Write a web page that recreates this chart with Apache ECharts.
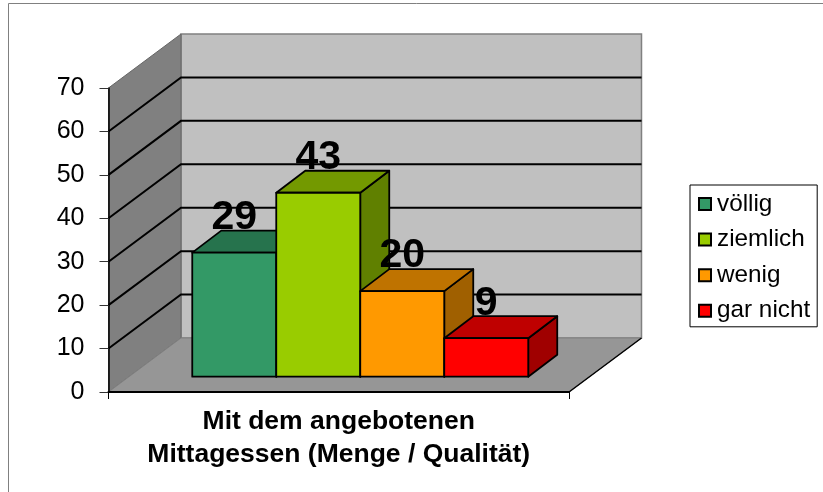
<!DOCTYPE html>
<html>
<head>
<meta charset="utf-8">
<style>
  html, body { margin: 0; padding: 0; background: #fff; }
  #chart { width: 823px; height: 492px; }
</style>
<script src="https://cdn.jsdelivr.net/npm/echarts@6/dist/echarts.min.js"></script>
</head>
<body>
<div id="chart"></div>
<script>
const categories = ['Mit dem angebotenen\nMittagessen (Menge / Qualität)'];
const seriesNames = ['völlig', 'ziemlich', 'wenig', 'gar nicht'];
const seriesValues = [29, 43, 20, 9];
const yTicks = [0, 10, 20, 30, 40, 50, 60, 70];

const frontColors = ['#339966', '#99cc00', '#ff9900', '#ff0000'];
const topColors = ['#26734d', '#739900', '#bf7300', '#bf0000'];
const sideColors = ['#206040', '#608000', '#a06000', '#a00000'];

const fontName = '"Liberation Sans", Arial, sans-serif';

// oblique projection of the 3d box, in pixels
const wallDx = 72.5;
const wallDy = -54;
const barDx = 29;
const barDy = -22;
const floorDx = 21.5;
const floorDy = -15.3;
const barShare = 0.1824;   // bar width as part of the category band
const barShrink = 0.985;   // bars stand a little behind the front plane

function renderWalls(params, api) {
  const y0 = api.coord([0, yTicks[0]])[1];
  const yTop = api.coord([0, yTicks[yTicks.length - 1]])[1];
  const band = api.size([1, 0])[0];
  const left = api.coord([0, 0])[0] - band / 2;
  const right = left + band;

  const children = [
    {
      type: 'polygon',
      shape: { points: [[left + wallDx, yTop + wallDy], [right + wallDx, yTop + wallDy], [right + wallDx, y0 + wallDy], [left + wallDx, y0 + wallDy]] },
      style: { fill: '#c0c0c0', stroke: '#808080', lineWidth: 1.5 }
    },
    {
      type: 'polygon',
      shape: { points: [[left, yTop], [left + wallDx, yTop + wallDy], [left + wallDx, y0 + wallDy], [left, y0]] },
      style: { fill: '#808080', stroke: '#666666', lineWidth: 1 }
    },
    {
      type: 'polygon',
      shape: { points: [[left, y0], [left + wallDx, y0 + wallDy], [right + wallDx, y0 + wallDy], [right, y0]] },
      style: { fill: '#969696', stroke: '#808080', lineWidth: 1 }
    },
    {
      type: 'line',
      shape: { x1: right, y1: y0, x2: right + wallDx, y2: y0 + wallDy },
      style: { stroke: '#000', lineWidth: 1.5 }
    }
  ];

  yTicks.slice(1, -1).forEach(tick => {
    const y = api.coord([0, tick])[1];
    children.push({
      type: 'polyline',
      shape: { points: [[left, y], [left + wallDx, y + wallDy], [right + wallDx, y + wallDy]] },
      style: { stroke: '#000', lineWidth: 2, fill: null }
    });
  });

  return { type: 'group', children: children };
}

function makeBarRenderer(i) {
  return function (params, api) {
    const value = api.value(1);
    const base = api.coord([0, 0]);
    const top = api.coord([0, value]);
    const barW = api.size([1, 0])[0] * barShare;
    const x0 = base[0] + (i - 2) * barW + floorDx;
    const x1 = x0 + barW;
    const yb = base[1] + floorDy;
    const yt = yb - (base[1] - top[1]) * barShrink;
    const style = fill => ({ fill: fill, stroke: '#000', lineWidth: 1.8, lineJoin: 'round' });

    return {
      type: 'group',
      children: [
        {
          type: 'polygon',
          z2: i * 3 + 1,
          shape: { points: [[x1, yt], [x1 + barDx, yt + barDy], [x1 + barDx, yb + barDy], [x1, yb]] },
          style: style(sideColors[i])
        },
        {
          type: 'polygon',
          z2: i * 3 + 2,
          shape: { points: [[x0, yt], [x0 + barDx, yt + barDy], [x1 + barDx, yt + barDy], [x1, yt]] },
          style: style(topColors[i])
        },
        {
          type: 'rect',
          z2: i * 3 + 3,
          shape: { x: x0, y: yt, width: barW, height: yb - yt },
          style: style(frontColors[i])
        },
        {
          type: 'text',
          z2: 100,
          x: (x0 + x1) / 2,
          y: yt - 35,
          style: {
            text: String(value),
            fill: '#000',
            font: 'bold 41px ' + fontName,
            align: 'center',
            verticalAlign: 'middle'
          }
        }
      ]
    };
  };
}

const chart = echarts.init(document.getElementById('chart'));

const barSeries = seriesNames.map((name, i) => ({
  name: name,
  type: 'custom',
  coordinateSystem: 'cartesian2d',
  itemStyle: { color: frontColors[i] },
  encode: { x: 0, y: 1 },
  data: [[0, seriesValues[i]]],
  renderItem: makeBarRenderer(i),
  z: 3
}));

chart.setOption({
  animation: false,
  backgroundColor: '#ffffff',
  textStyle: { fontFamily: fontName, color: '#000' },
  graphic: [{
    type: 'rect',
    z: -10,
    shape: { x: 8.5, y: 3.5, width: 900, height: 600 },
    style: { fill: '#fff', stroke: '#808080', lineWidth: 1 }
  }],
  grid: { left: 108.5, top: 88, width: 460.5, height: 304 },
  legend: {
    data: seriesNames,
    orient: 'vertical',
    left: 690,
    top: 185,
    padding: [7, 7, 4, 8],
    itemGap: 11.6,
    itemWidth: 12,
    itemHeight: 12,
    icon: 'rect',
    selectedMode: false,
    borderColor: '#000',
    borderWidth: 1,
    backgroundColor: '#fff',
    itemStyle: { borderColor: '#000', borderWidth: 2 },
    textStyle: { fontFamily: fontName, fontSize: 24.3, color: '#000', padding: [0, 0, 0, 1] }
  },
  xAxis: {
    type: 'category',
    data: categories,
    z: 5,
    axisLine: { lineStyle: { color: '#000', width: 2 } },
    axisTick: { show: true, length: 7, lineStyle: { color: '#000' } },
    axisLabel: {
      fontFamily: fontName,
      fontSize: 26.5,
      fontWeight: 'bold',
      color: '#000',
      lineHeight: 33,
      margin: 13
    }
  },
  yAxis: {
    type: 'value',
    min: 0,
    max: 70,
    interval: 10,
    z: 5,
    splitLine: { show: false },
    axisLine: { show: true, lineStyle: { color: '#000', width: 1.5 } },
    axisTick: { show: true, length: 9, lineStyle: { color: '#333' } },
    axisLabel: { fontFamily: fontName, fontSize: 25, color: '#000', margin: 24, padding: [3, 0, 0, 0] }
  },
  series: [{
    name: 'walls',
    type: 'custom',
    coordinateSystem: 'cartesian2d',
    encode: { x: 0, y: 1 },
    data: [[0, 0]],
    renderItem: renderWalls,
    z: 1
  }].concat(barSeries)
});
</script>
</body>
</html>
